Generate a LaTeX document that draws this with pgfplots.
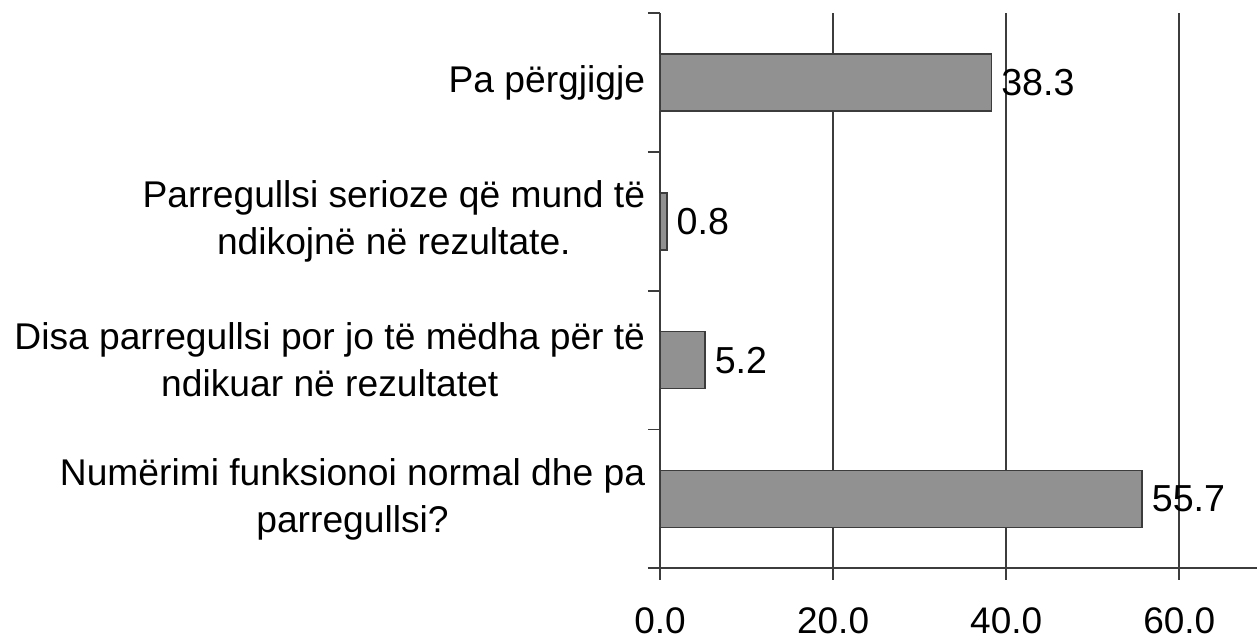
\documentclass[border=0pt]{standalone}
\usepackage{fontspec}
\setmainfont{Liberation Sans}
\usepackage{pgfplots}
\pgfplotsset{compat=1.18}
\definecolor{barfill}{RGB}{145,145,145}
\definecolor{gridc}{RGB}{60,60,60}
\begin{document}
\begin{tikzpicture}
\begin{axis}[
  at={(0,0)}, anchor=south west,
  scale only axis, width=298.6pt, height=277.5pt,
  xmin=0, xmax=69, ymin=-0.5, ymax=3.5,
  xbar, bar width=0.41,
  axis x line*=bottom, axis y line*=left,
  axis line style={gridc, line width=0.9pt},
  tick align=outside,
  major tick length=5.75pt,
  minor tick length=6pt,
  xtick={0,20,40,60},
  /pgf/number format/fixed,
  /pgf/number format/fixed zerofill,
  /pgf/number format/precision=1,
  /pgf/number format/assume math mode=true,
  xticklabel style={font=\fontsize{18.5}{22}\selectfont, yshift=-10.5pt},
  major x tick style={gridc, line width=0.9pt},
  xmajorgrids, major x grid style={gridc, line width=0.9pt},
  ytick={0,1,2,3},
  yticklabels={{Numërimi funksionoi normal dhe pa\\parregullsi?},
               {Disa parregullsi por jo të mëdha për të\\ndikuar në rezultatet},
               {Parregullsi serioze që mund të\\ndikojnë në rezultate.},
               {Pa përgjigje}},
  yticklabel style={font=\fontsize{18.6}{23.5}\selectfont, align=center, inner xsep=0pt, xshift=-1.5pt},
  major y tick style={draw=none},
  minor ytick={-0.5,0.5,1.5,2.5,3.5},
  minor y tick style={gridc, line width=0.9pt},
  point meta=x,
  nodes near coords={\pgfmathprintnumber{\pgfplotspointmeta}},
  nodes near coords style={font=\fontsize{18.8}{22}\selectfont, anchor=west, xshift=1.2pt},
]
\addplot[fill=barfill, draw=gridc, line width=0.75pt] coordinates {(55.7,0) (5.2,1) (0.8,2) (38.3,3)};
\end{axis}
\pgfresetboundingbox
\path (-330pt,-35.35pt) rectangle (298.5pt,284.15pt);
\end{tikzpicture}
\end{document}
